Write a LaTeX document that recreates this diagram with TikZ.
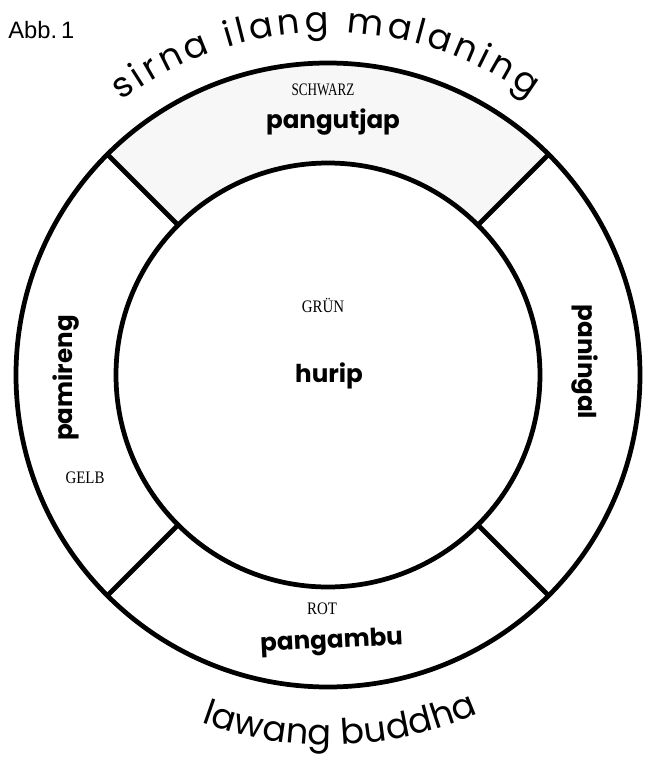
\documentclass[tikz,border=0pt]{standalone}
\usepackage{fontspec}
\setmainfont{Liberation Serif}
\newfontfamily\hand{Poppins}
\newfontfamily\abbfont{Liberation Sans}
\usepackage{tikz}
\usetikzlibrary{decorations.text}

\begin{document}
\begin{tikzpicture}[x=0.02cm, y=0.02cm]
\tikzstyle{ring}=[line width=2.7pt]
\tikzstyle{farbe}=[font=\fontsize{10}{12}\selectfont, xscale=0.85, inner sep=0pt]
\tikzstyle{wort}=[font=\hand\bfseries\fontsize{14}{16}\selectfont, inner sep=0pt]
\useasboundingbox (-328,-387) rectangle (317,375);
\coordinate (c) at (0,0);
% schwarzes Feld oben
\fill[black!3] (45:312) arc[start angle=45, end angle=135, radius=312] -- (135:212)
  arc[start angle=135, end angle=45, radius=212] -- cycle;
\draw[ring] (c) circle[radius=312];
\draw[ring] (c) circle[radius=212];
\foreach \a in {45,135,225,315}
  \draw[ring] (\a:212) -- (\a:312);
% Beschriftung
\node[anchor=west, font=\abbfont\fontsize{13.5}{15}\selectfont, inner sep=0pt] (abb) at (-320,345) {Abb.\,1};
\node[farbe, xscale=0.88] (schwarz) at (-5,285) {SCHWARZ};
\node[wort, anchor=base] (pangutjap) at (5,247) {pangutjap};
\node[farbe] (gruen) at (-5,70) {GRÜN};
\node[wort, anchor=base] (hurip) at (1,-7) {hurip};
\node[farbe] (rot) at (-6,-234) {ROT};
\node[wort, anchor=base, rotate=3] (pangambu) at (4,-273) {pangambu};
\node[farbe] (gelb) at (-243,-103) {GELB};
\node[wort, rotate=90] (pamireng) at (-262,-3) {pamireng};
\node[wort, rotate=-90] (paningal) at (257,13) {paningal};
\path[decorate, decoration={text along path, text align={fit to path},
  text={|\hand\fontsize{20}{24}\selectfont|sirna ilang malaning}}]
  (127:343) arc[start angle=127, end angle=54, radius=343];
\path[decorate, decoration={text along path, text align={fit to path},
  text={|\hand\fontsize{20}{24}\selectfont|lawang buddha}}]
  (250:370) arc[start angle=250, end angle=294, radius=370];
\end{tikzpicture}
\end{document}
